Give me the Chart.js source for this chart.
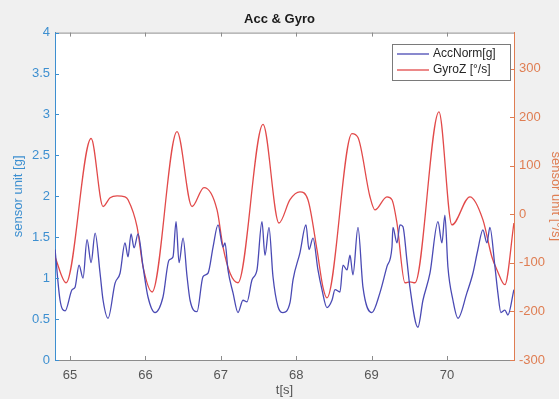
<!DOCTYPE html>
<html>
<head>
<meta charset="utf-8">
<script src="https://cdn.jsdelivr.net/npm/chart.js@4.4.1/dist/chart.umd.min.js"></script>
<style>
  html, body { margin: 0; padding: 0; background: #f0f0f0; }
  canvas { display: block; }
</style>
</head>
<body>
<canvas id="chart" width="559" height="399"></canvas>
<script>
// AccNorm [g] (left axis)
const accTime = [64.801, 64.867, 64.934, 65.027, 65.066, 65.119, 65.172, 65.225, 65.279, 65.332,
  65.398, 65.438, 65.504, 65.597, 65.663, 65.729, 65.769, 65.809, 65.849, 65.902,
  65.968, 66.034, 66.127, 66.233, 66.313, 66.366, 66.406, 66.446, 66.499, 66.552,
  66.592, 66.684, 66.764, 66.830, 66.897, 66.963, 67.029, 67.056, 67.095, 67.162,
  67.228, 67.294, 67.347, 67.414, 67.480, 67.546, 67.586, 67.639, 67.692, 67.759,
  67.825, 67.918, 67.958, 68.050, 68.130, 68.170, 68.223, 68.289, 68.342, 68.408,
  68.475, 68.515, 68.581, 68.621, 68.674, 68.714, 68.753, 68.820, 68.886, 69.005,
  69.111, 69.204, 69.271, 69.284, 69.337, 69.377, 69.416, 69.469, 69.509, 69.615,
  69.682, 69.775, 69.881, 69.934, 69.973, 70.013, 70.080, 70.146, 70.265, 70.345,
  70.411, 70.477, 70.531, 70.570, 70.637, 70.676, 70.716, 70.769, 70.809, 70.889];
const accNorm = [1.35, 0.73, 0.60, 0.86, 0.89, 1.16, 1.00, 1.47, 1.19, 1.55,
  1.06, 0.73, 0.51, 0.94, 1.06, 1.43, 1.26, 1.54, 1.37, 1.54,
  1.14, 0.77, 0.58, 0.77, 1.22, 1.26, 1.69, 1.19, 1.49, 1.02,
  0.73, 0.59, 1.02, 1.06, 1.38, 1.65, 1.38, 1.43, 1.10, 0.82,
  0.58, 0.73, 0.71, 0.98, 1.10, 1.69, 1.28, 1.62, 1.02, 0.65,
  0.58, 0.70, 0.98, 1.31, 1.65, 1.35, 1.49, 1.10, 0.86, 0.64,
  0.73, 0.86, 0.83, 1.16, 1.10, 1.28, 1.04, 1.62, 0.89, 0.58,
  0.82, 1.14, 1.38, 1.62, 1.43, 1.65, 1.63, 1.22, 0.89, 0.40,
  0.73, 1.06, 1.69, 1.43, 1.77, 1.14, 0.73, 0.51, 0.82, 1.06,
  1.35, 1.59, 1.43, 1.62, 1.14, 0.82, 0.58, 0.61, 0.55, 0.86];

// GyroZ [deg/s] (right axis)
const gyroTime = [64.800, 64.947, 65.279, 65.438, 65.531, 65.623, 65.729, 65.769, 65.889, 65.968,
  66.088, 66.419, 66.618, 66.777, 66.950, 67.029, 67.122, 67.228, 67.560, 67.772,
  67.918, 68.050, 68.156, 68.276, 68.355, 68.408, 68.740, 68.820, 68.979, 69.045,
  69.204, 69.271, 69.337, 69.443, 69.509, 69.576, 69.894, 70.066, 70.305, 70.477,
  70.597, 70.663, 70.769, 70.889];
const gyroZ = [-88, -141, 156, 16, 34, 38, 36, 30, -26, -108,
  -160, 170, 16, 55, 9, -67, -121, -141, 185, -18,
  30, 46, 30, -73, -150, -172, 166, 158, 36, 9,
  36, 30, -18, -141, -139, -141, 211, -22, 36, -11,
  -88, -114, -145, -18];

const xTicks = [65, 66, 67, 68, 69, 70];
const leftTicks = [0, 0.5, 1, 1.5, 2, 2.5, 3, 3.5, 4];
const rightTicks = [-300, -200, -100, 0, 100, 200, 300];

const FONT = 'Liberation Sans, Arial, Helvetica, sans-serif';
const leftColor = '#3d8fd0';
const rightColor = '#df7d52';
const axisGray = '#8c8c8c';

const toPoints = (xs, ys) => xs.map((x, i) => ({ x: x, y: ys[i] }));

// background, white plot area, inner tick marks, top border, legend box
const matlabLook = {
  id: 'matlabLook',
  beforeDraw(chart) {
    const { ctx, chartArea: a } = chart;
    ctx.save();
    ctx.fillStyle = '#f0f0f0';
    ctx.fillRect(0, 0, chart.width, chart.height);
    ctx.fillStyle = '#ffffff';
    ctx.fillRect(a.left, a.top, a.right - a.left, a.bottom - a.top);
    ctx.restore();
  },
  afterDraw(chart) {
    const { ctx, chartArea: a, scales } = chart;
    ctx.save();
    ctx.lineWidth = 1;
    // top border
    ctx.strokeStyle = axisGray;
    ctx.beginPath();
    ctx.moveTo(a.left, a.top + 0.5);
    ctx.lineTo(a.right, a.top + 0.5);
    ctx.stroke();
    // x ticks inside, bottom and top
    ctx.beginPath();
    xTicks.forEach(v => {
      const px = Math.round(scales.x.getPixelForValue(v)) + 0.5;
      ctx.moveTo(px, a.bottom); ctx.lineTo(px, a.bottom - 4);
      ctx.moveTo(px, a.top); ctx.lineTo(px, a.top + 4);
    });
    ctx.stroke();
    ctx.strokeStyle = leftColor;
    ctx.beginPath();
    leftTicks.forEach(v => {
      const py = Math.round(scales.y.getPixelForValue(v)) + 0.5;
      ctx.moveTo(a.left, py); ctx.lineTo(a.left + 4, py);
    });
    ctx.stroke();
    ctx.strokeStyle = rightColor;
    ctx.beginPath();
    rightTicks.forEach(v => {
      const py = Math.round(scales.y1.getPixelForValue(v)) + 0.5;
      ctx.moveTo(a.right, py); ctx.lineTo(a.right - 4, py);
    });
    ctx.stroke();

    // legend
    const bx = 392, by = 44, bw = 118, bh = 36;
    ctx.fillStyle = '#ffffff';
    ctx.fillRect(bx, by, bw, bh);
    ctx.strokeStyle = '#7a7a7a';
    ctx.strokeRect(bx + 0.5, by + 0.5, bw, bh);
    ctx.font = '12px ' + FONT;
    ctx.textBaseline = 'middle';
    chart.data.datasets.forEach((ds, i) => {
      const y = by + 10 + i * 16;
      ctx.strokeStyle = ds.borderColor;
      ctx.lineWidth = 1.3;
      ctx.beginPath();
      ctx.moveTo(bx + 5, y); ctx.lineTo(bx + 37, y);
      ctx.stroke();
      ctx.fillStyle = '#262626';
      ctx.fillText(ds.label, bx + 41, y);
    });
    ctx.restore();
  }
};

new Chart(document.getElementById('chart').getContext('2d'), {
  type: 'line',
  data: {
    datasets: [
      {
        label: 'AccNorm[g]',
        data: toPoints(accTime, accNorm),
        yAxisID: 'y',
        borderColor: '#4a4ab4',
        borderWidth: 1.3,
        pointRadius: 0,
        cubicInterpolationMode: 'monotone'
      },
      {
        label: 'GyroZ [°/s]',
        data: toPoints(gyroTime, gyroZ),
        yAxisID: 'y1',
        borderColor: '#e24a4a',
        borderWidth: 1.3,
        pointRadius: 0,
        cubicInterpolationMode: 'monotone'
      }
    ]
  },
  options: {
    responsive: false,
    animation: false,
    layout: { padding: 0 },
    plugins: {
      legend: { display: false },
      tooltip: { enabled: false },
      title: {
        display: true,
        text: 'Acc & Gyro',
        color: '#1a1a1a',
        font: { family: FONT, size: 13, weight: 'bold' },
        padding: { top: 12, bottom: 5 }
      }
    },
    scales: {
      x: {
        type: 'linear',
        min: 64.8,
        max: 70.89,
        afterBuildTicks: s => { s.ticks = xTicks.map(v => ({ value: v })); },
        afterFit: s => { s.height = 39; },
        grid: { display: false, drawTicks: false },
        border: { color: axisGray, width: 1 },
        ticks: { color: '#555555', padding: 8, maxRotation: 0, font: { family: FONT, size: 13 }, callback: v => String(v) },
        title: { display: true, text: 't[s]', color: '#555555', font: { family: FONT, size: 13 }, padding: { top: 0, bottom: 1 } }
      },
      y: {
        position: 'left',
        min: 0,
        max: 4,
        afterBuildTicks: s => { s.ticks = leftTicks.map(v => ({ value: v })); },
        afterFit: s => { s.width = 55; },
        grid: { display: false, drawTicks: false },
        border: { color: leftColor, width: 1 },
        ticks: { color: leftColor, padding: 5, font: { family: FONT, size: 13 }, callback: v => String(v) },
        title: { display: true, text: 'sensor unit [g]', color: leftColor, font: { family: FONT, size: 13 }, padding: { top: 11, bottom: 0 } }
      },
      y1: {
        position: 'right',
        min: -300,
        max: 374,
        afterBuildTicks: s => { s.ticks = rightTicks.map(v => ({ value: v })); },
        afterFit: s => { s.width = 45; },
        grid: { display: false, drawTicks: false },
        border: { color: rightColor, width: 1 },
        ticks: { color: rightColor, padding: 5, font: { family: FONT, size: 13 }, callback: v => String(v) },
        title: { display: true, text: 'sensor unit [°/s]', color: rightColor, font: { family: FONT, size: 13 }, padding: { top: -4, bottom: 0 } }
      }
    }
  },
  plugins: [matlabLook]
});
</script>
</body>
</html>
